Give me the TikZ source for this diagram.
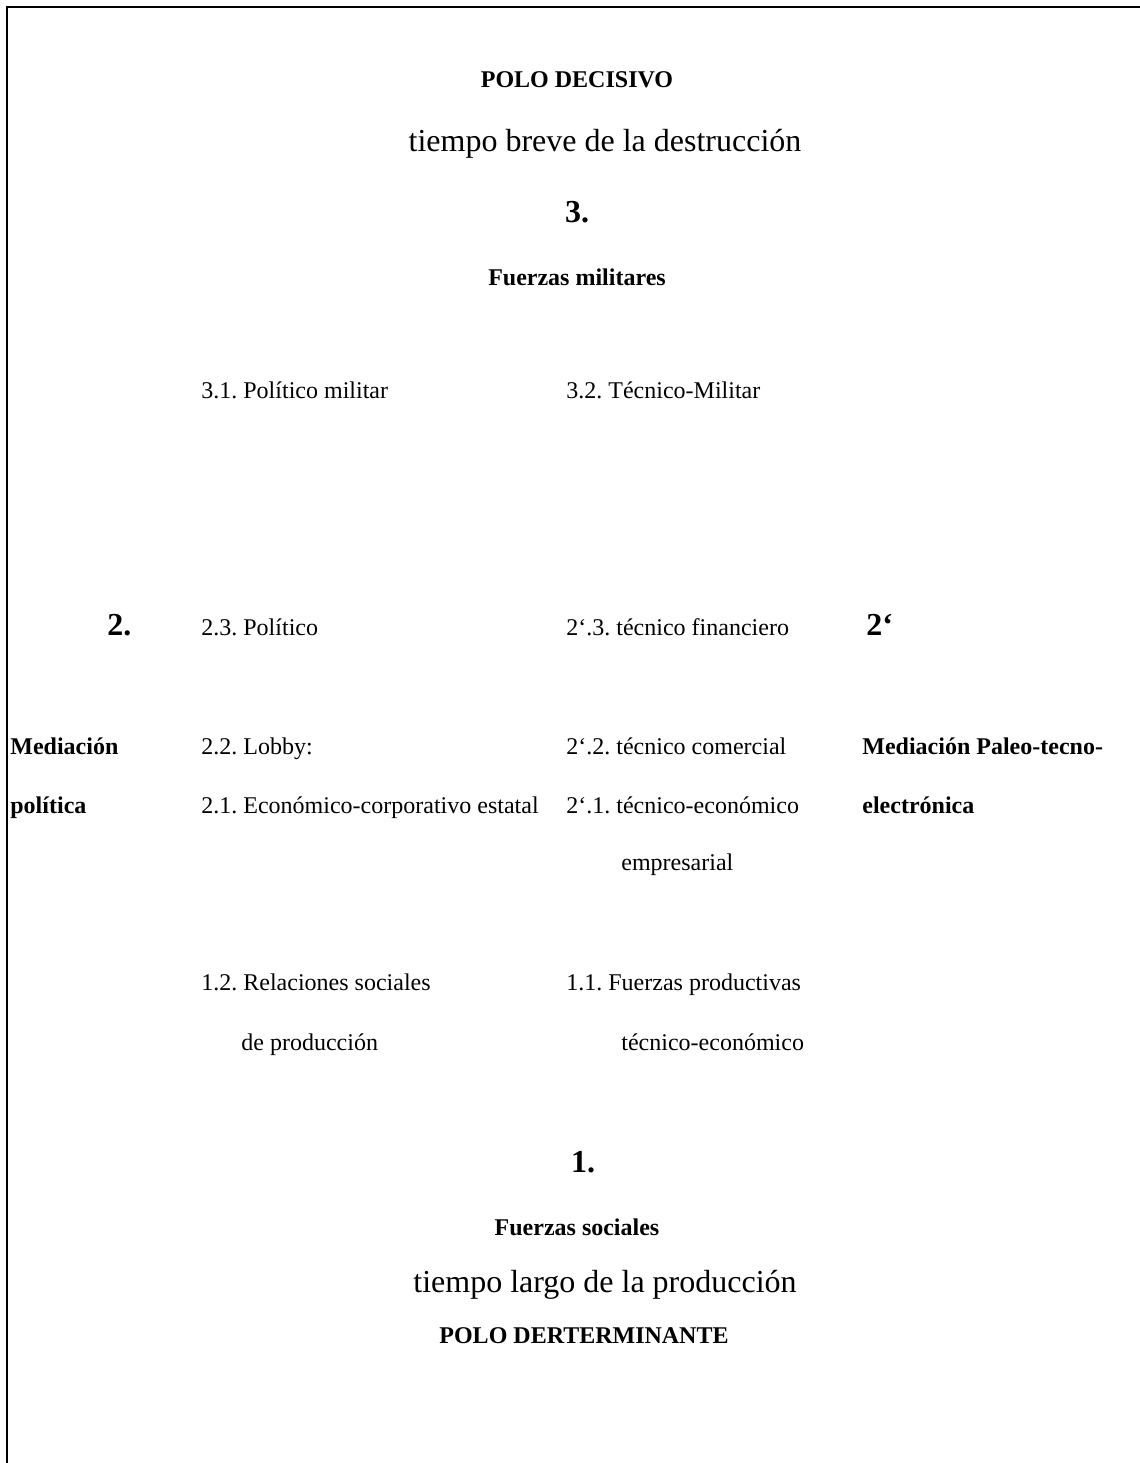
\documentclass[tikz,border=0pt]{standalone}
\usepackage{fontspec}
\setmainfont{Liberation Serif}
\frenchspacing

\begin{document}
\begin{tikzpicture}[
  x=0.5pt, y=-0.5pt,
  every node/.style={inner sep=0pt, anchor=base west},
  item/.style={font=\fontsize{12}{14}\selectfont},
  head/.style={font=\fontsize{12}{14}\selectfont\bfseries, anchor=base},
  era/.style={font=\fontsize{16}{19}\selectfont, anchor=base},
  num/.style={font=\fontsize{16}{19}\selectfont\bfseries},
]

\def\cA{201}   % left column
\def\cB{566}   % right column
\def\cM{577}   % middle axis

\useasboundingbox (0,0) rectangle (1140,1463);

% frame, open to the right and below
\draw[line width=0.9pt] (7,1463) -- (7,7) -- (1140,7);

% upper pole
\node[head] (polo3) at (\cM,87) {POLO DECISIVO};
\node[era]  (tiempo3) at (605,151) {tiempo breve de la destrucción};
\node[num, anchor=base] (n3) at (\cM,222) {3.};
\node[head] (fuerza3) at (\cM,285) {Fuerzas militares};

\node[item] (i31) at (\cA,398) {3.1. Político militar};
\node[item] (i32) at (\cB,398) {3.2. Técnico-Militar};

% mediations
\node[num] (n2)  at (107,635) {2.};
\node[num] (n2b) at (866,635) {2‘};
\node[head, anchor=base west] (med2a) at (10,754) {Mediación};
\node[head, anchor=base west] (med2b) at (10,813) {política};
\node[head, anchor=base west] (med2c) at (862,754) {Mediación Paleo-tecno-};
\node[head, anchor=base west] (med2d) at (862,813) {electrónica};

\foreach \txt/\y [count=\i] in {%
  {2.3. Político}/635,
  {2.2. Lobby:}/754,
  {2.1. Económico-corporativo estatal}/813%
}
  \node[item] (l2\i) at (\cA,\y) {\txt};

\foreach \txt/\y [count=\i] in {%
  {2‘.3. técnico financiero}/635,
  {2‘.2. técnico comercial}/754,
  {2‘.1. técnico-económico}/813%
}
  \node[item] (r2\i) at (\cB,\y) {\txt};
\node[item] (r2x) at (621,870) {empresarial};

% lower level
\node[item] (i12) at (\cA,990) {1.2. Relaciones sociales};
\node[item] (i12b) at (241,1050) {de producción};
\node[item] (i11) at (\cB,990) {1.1. Fuerzas productivas};
\node[item] (i11b) at (621,1050) {técnico-económico};

% lower pole
\node[num, anchor=base] (n1) at (583,1172) {1.};
\node[head] (fuerza1) at (\cM,1235) {Fuerzas sociales};
\node[era]  (tiempo1) at (605,1292) {tiempo largo de la producción};
\node[head] (polo1) at (584,1343) {POLO DERTERMINANTE};

\end{tikzpicture}
\end{document}
